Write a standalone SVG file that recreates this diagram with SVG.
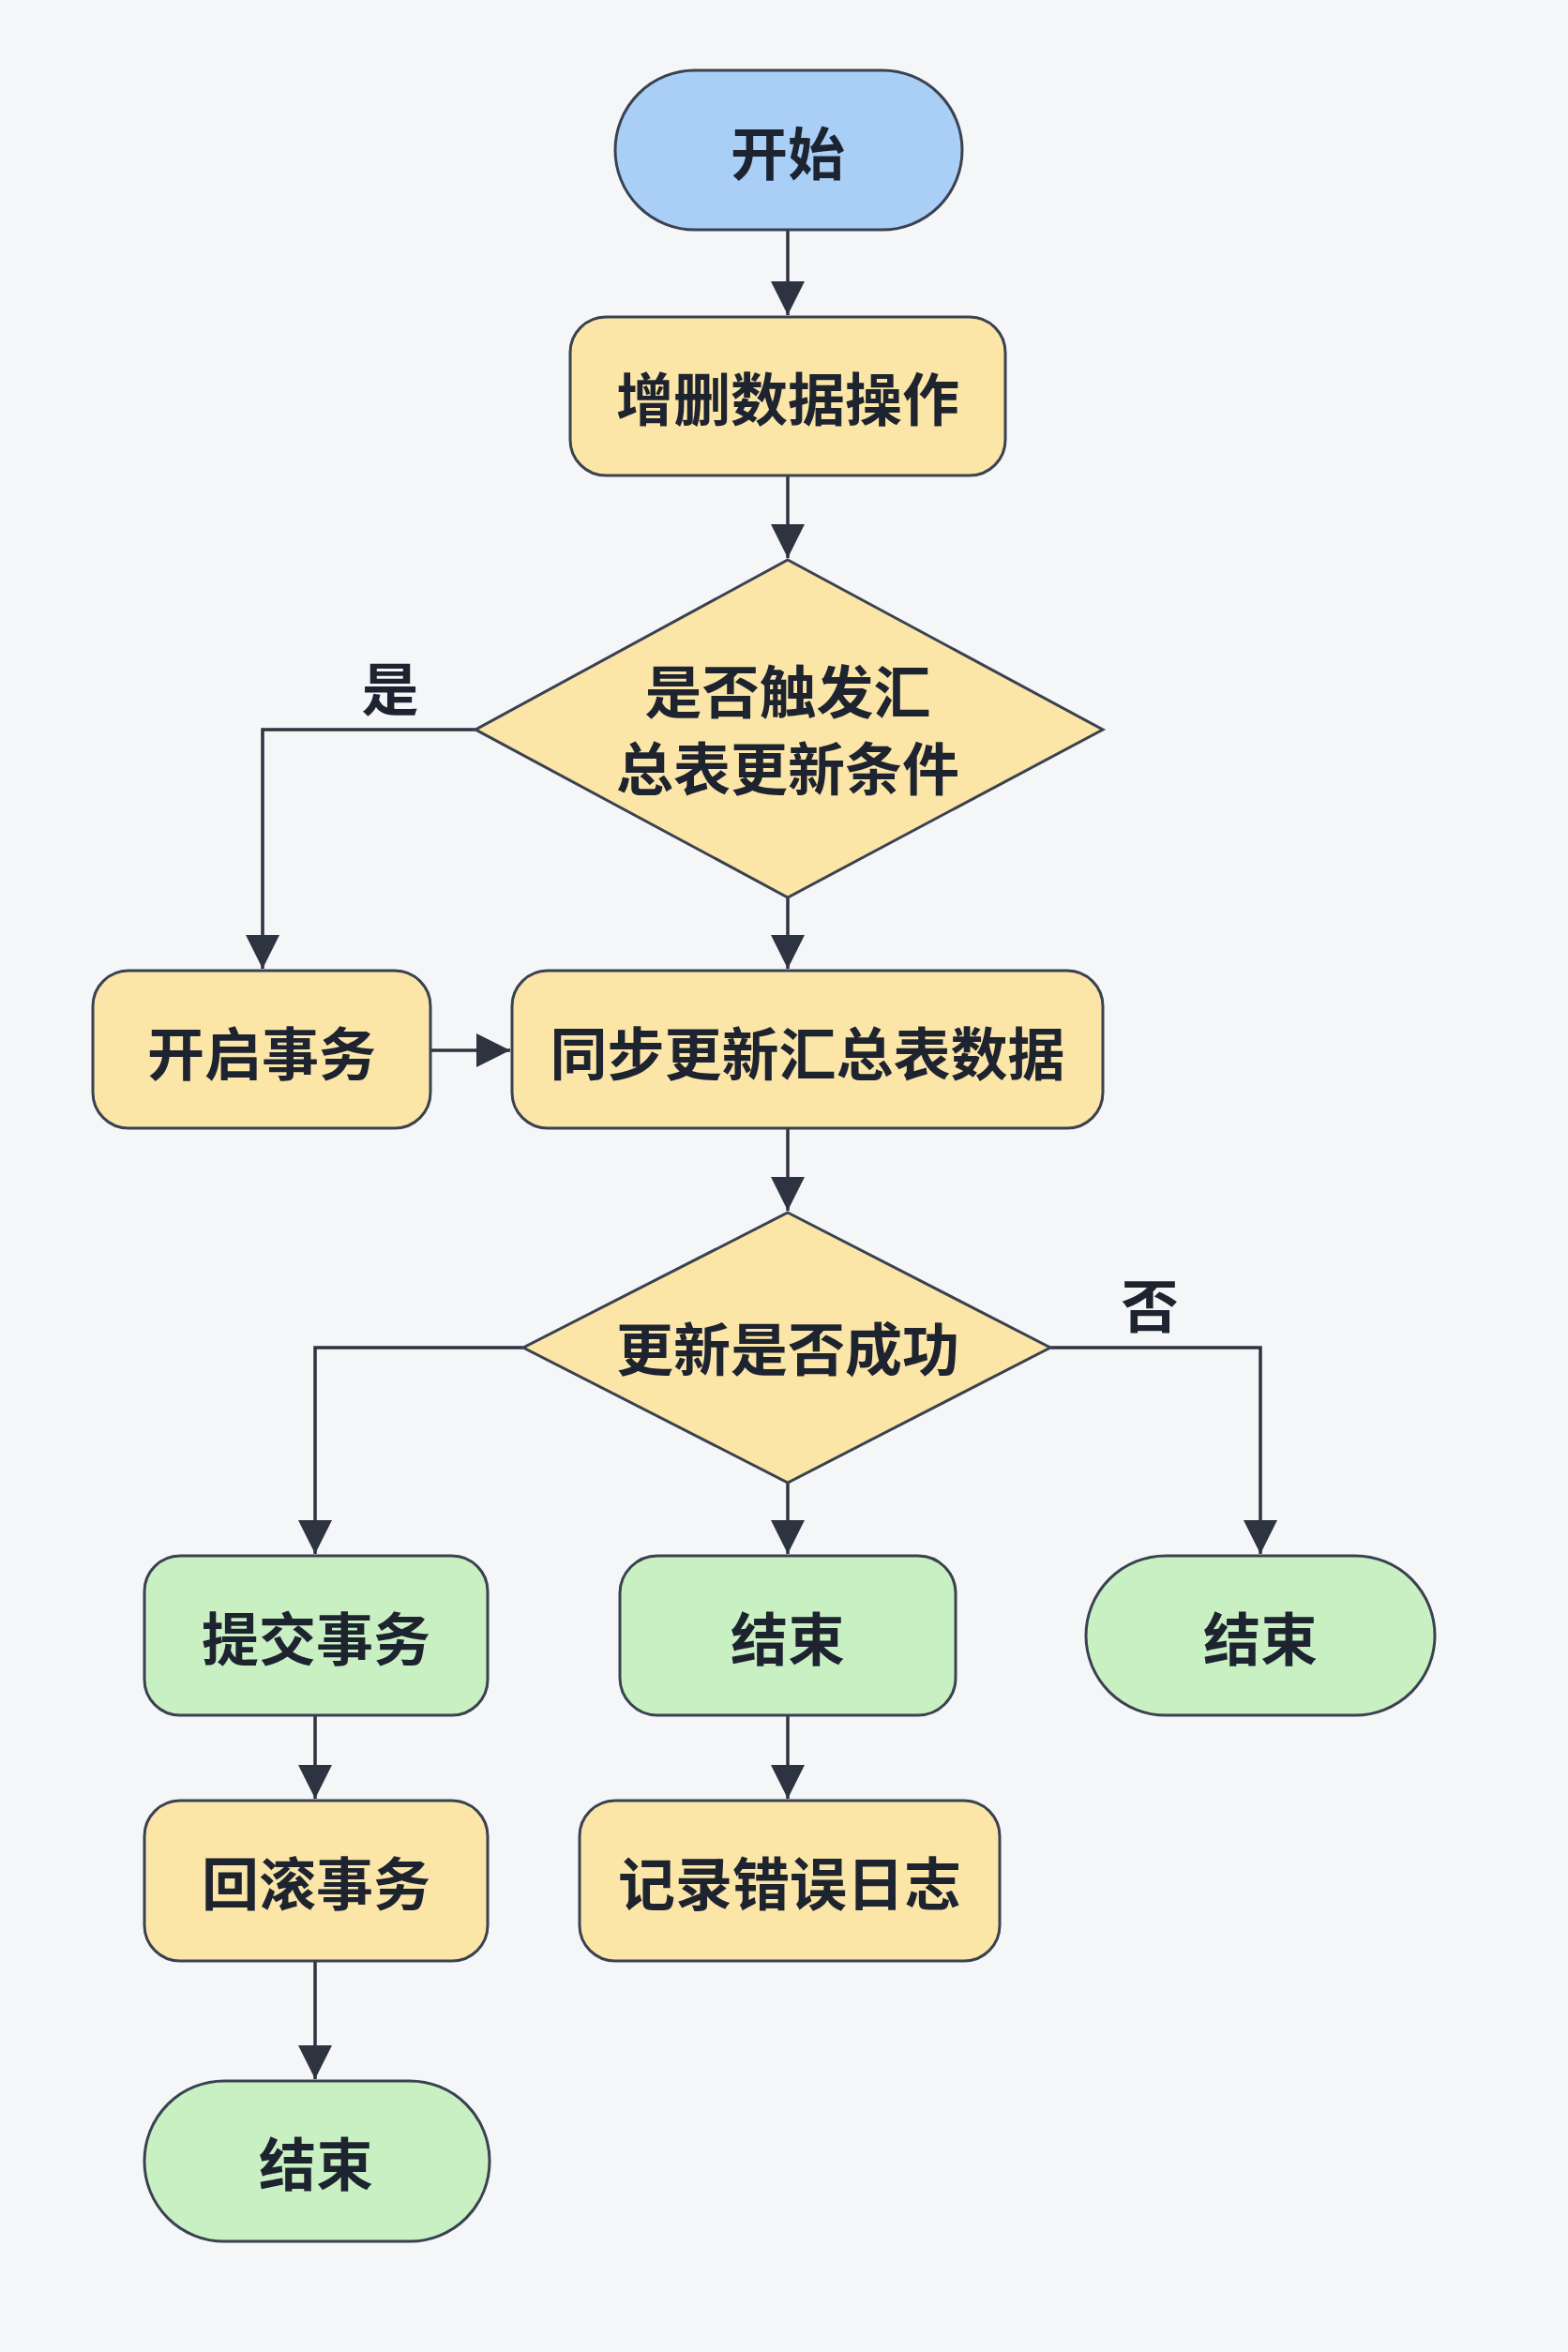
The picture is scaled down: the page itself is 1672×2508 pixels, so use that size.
<svg xmlns="http://www.w3.org/2000/svg" width="1672" height="2508" viewBox="0 0 1672 2508">
<defs>
<style>
.b{fill:#a9cff7;stroke:#3a4150;stroke-width:3}
.y{fill:#fbe6a8;stroke:#3a4150;stroke-width:3}
.g{fill:#c9f0c3;stroke:#3a4150;stroke-width:3}
.t{font-family:"Noto Sans CJK SC","Noto Sans",sans-serif;font-weight:bold;font-size:61px;fill:#1e2330;text-anchor:middle;dominant-baseline:central}
.c{fill:none;stroke:#2d3340;stroke-width:3.5}
</style>
<marker id="a" markerWidth="36" markerHeight="36" refX="30" refY="15" orient="auto" markerUnits="userSpaceOnUse" viewBox="0 0 30 30"><path d="M0,0 L30,15 L0,30 z" fill="#2d3340"/></marker>
</defs>
<rect width="1672" height="2508" fill="#f5f6f7"/>
<g id="connectors">
<path class="c" d="M840,245 V336" marker-end="url(#a)"/>
<path class="c" d="M840,507 V595" marker-end="url(#a)"/>
<path class="c" d="M507,778 H280 V1033" marker-end="url(#a)"/>
<path class="c" d="M840,957 V1033" marker-end="url(#a)"/>
<path class="c" d="M459,1120 H544" marker-end="url(#a)"/>
<path class="c" d="M840,1203 V1291" marker-end="url(#a)"/>
<path class="c" d="M558,1437 H336 V1657" marker-end="url(#a)"/>
<path class="c" d="M1120,1437 H1344 V1657" marker-end="url(#a)"/>
<path class="c" d="M840,1581 V1657" marker-end="url(#a)"/>
<path class="c" d="M336,1829 V1918" marker-end="url(#a)"/>
<path class="c" d="M840,1829 V1918" marker-end="url(#a)"/>
<path class="c" d="M336,2091 V2217" marker-end="url(#a)"/>
<text class="t" x="416" y="731" font-size="58">是</text>
<text class="t" x="1226" y="1389" font-size="58">否</text>
</g>
<g id="start"><rect class="b" x="656" y="75" width="370" height="170" rx="85"/><text class="t" x="840" y="160">开始</text></g>
<g id="op"><rect class="y" x="608" y="338" width="464" height="169" rx="38"/><text class="t" x="840" y="422">增删数据操作</text></g>
<g id="d1"><polygon class="y" points="840,597 1176,778 840,957 507,778"/><text class="t" x="840" y="734">是否触发汇</text><text class="t" x="840" y="816">总表更新条件</text></g>
<g id="tx"><rect class="y" x="99" y="1035" width="360" height="168" rx="38"/><text class="t" x="279" y="1120">开启事务</text></g>
<g id="sync"><rect class="y" x="546" y="1035" width="630" height="168" rx="38"/><text class="t" x="861" y="1120">同步更新汇总表数据</text></g>
<g id="d2"><polygon class="y" points="840,1293 1120,1437 840,1581 558,1437"/><text class="t" x="840" y="1435">更新是否成功</text></g>
<g id="commit"><rect class="g" x="154" y="1659" width="366" height="170" rx="38"/><text class="t" x="337" y="1744">提交事务</text></g>
<g id="end1"><rect class="g" x="661" y="1659" width="358" height="170" rx="40"/><text class="t" x="840" y="1744">结束</text></g>
<g id="end2"><rect class="g" x="1158" y="1659" width="372" height="170" rx="85"/><text class="t" x="1344" y="1744">结束</text></g>
<g id="rollback"><rect class="y" x="154" y="1920" width="366" height="171" rx="38"/><text class="t" x="337" y="2005">回滚事务</text></g>
<g id="log"><rect class="y" x="618" y="1920" width="448" height="171" rx="38"/><text class="t" x="842" y="2005">记录错误日志</text></g>
<g id="end3"><rect class="g" x="154" y="2219" width="368" height="171" rx="85"/><text class="t" x="337" y="2304">结束</text></g>
</svg>
